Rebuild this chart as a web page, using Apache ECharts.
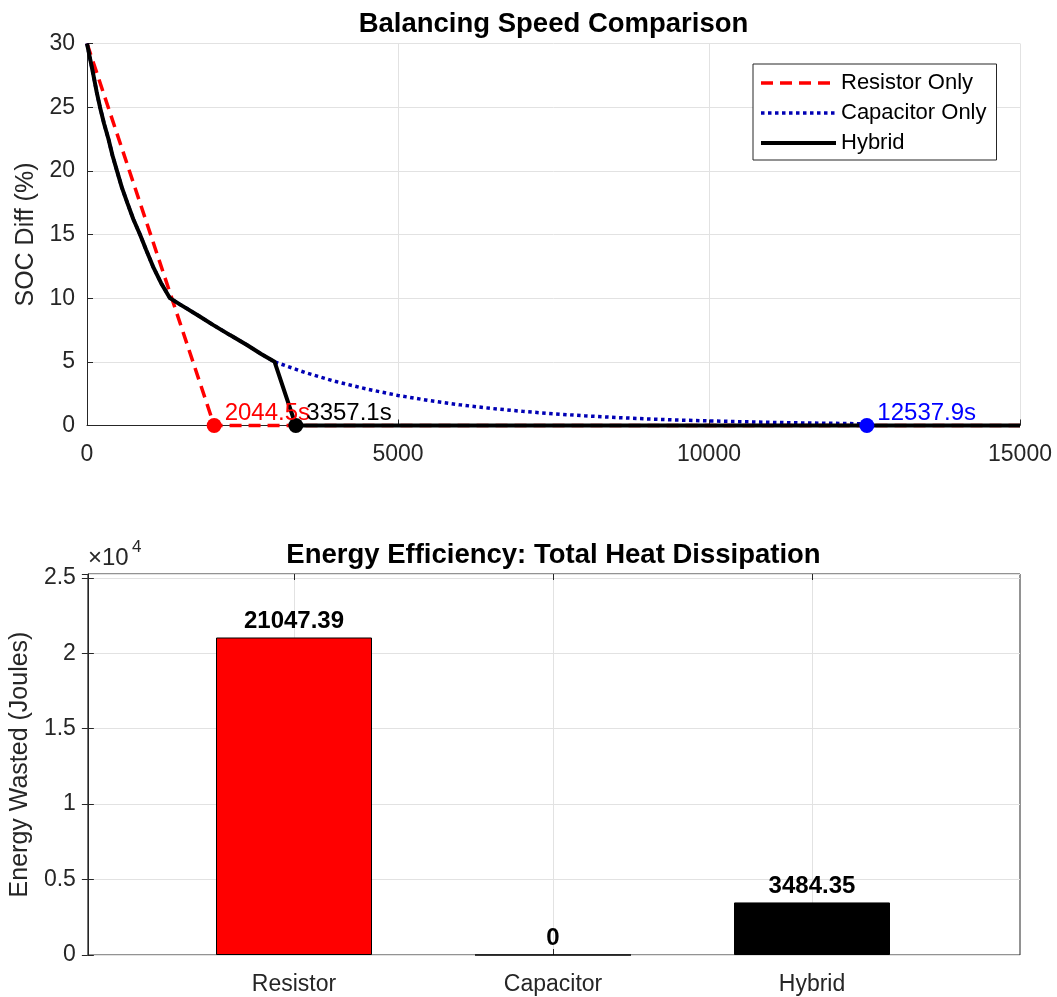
<!DOCTYPE html>
<html><head><meta charset="utf-8">
<script src="https://cdn.jsdelivr.net/npm/echarts@6.0.0/dist/echarts.min.js"></script>
<style>html,body{margin:0;padding:0;background:#fff}#c{width:1057px;height:997px}</style>
</head><body><div id="c"></div>
<script>
const FONT = '"Liberation Sans", Arial, Helvetica, sans-serif';

// ---- Top chart data (time in s, SOC difference in %) ----
const resistorTime = [0, 2044.5, 15000];
const resistorSoc  = [30, 0, 0];

const capacitorTime = [0, 50, 104, 155, 209, 275, 345, 410, 482, 560, 647, 745, 852, 950, 1060, 1190, 1334,
  1480, 1600, 1800, 2026, 2300, 2572, 2800, 3016,
  3500, 4000, 4500, 5000, 5500, 6000, 6500, 7000, 7500, 8000, 8500, 9000, 9500, 10000, 10500, 11000, 11500, 12000, 12537.9];
const capacitorSoc  = [30, 28.8, 27.5, 26.2, 25, 23.7, 22.5, 21.2, 20, 18.7, 17.5, 16.2, 15, 13.8, 12.5, 11.2, 10,
  9.55, 9.2, 8.6, 7.9, 7.1, 6.32, 5.62, 5.0,
  4.17, 3.45, 2.86, 2.36, 1.96, 1.62, 1.34, 1.11, 0.92, 0.76, 0.63, 0.52, 0.43, 0.36, 0.30, 0.245, 0.20, 0.17, 0.13];

const hybridTime = [0, 50, 104, 155, 209, 275, 345, 410, 482, 560, 647, 745, 852, 950, 1060, 1190, 1334,
  1480, 1600, 1800, 2026, 2300, 2572, 2800, 3016, 3357.1, 15000];
const hybridSoc  = [30, 28.8, 27.5, 26.2, 25, 23.7, 22.5, 21.2, 20, 18.7, 17.5, 16.2, 15, 13.8, 12.5, 11.2, 10,
  9.55, 9.2, 8.6, 7.9, 7.1, 6.32, 5.62, 5.0, 0, 0];

const finishTimes = [2044.5, 3357.1, 12537.9];   // Resistor, Hybrid, Capacitor
const seriesNames = ['Resistor Only', 'Capacitor Only', 'Hybrid'];

// ---- Bottom chart data ----
const energyCategories = ['Resistor', 'Capacitor', 'Hybrid'];
const energyValues = [21047.39, 0, 3484.35];
const energyYMax = 25256.87; // 1.2 x largest bar

const zip = (a, b) => a.map((v, i) => [v, b[i]]);
const axisColor = '#262626';
const gridColor = '#e2e2e2';

const styles = {
  resistor: {color: '#ff0000', width: 3.5, type: [12, 7]},
  capacitor: {color: '#0000b4', width: 3.5, type: [3.5, 3.5]},
  hybrid: {color: '#000000', width: 4, type: 'solid'}
};

const chart = echarts.init(document.getElementById('c'), null, {renderer: 'canvas'});

const finishLabel = (color) => ({
  show: true, position: 'right', distance: 3, offset: [0, -12],
  formatter: p => p.value[0].toFixed(1) + 's',
  color: color, fontSize: 24, fontFamily: FONT, opacity: 1
});

const option = {
  backgroundColor: '#fff',
  animation: false,
  textStyle: {fontFamily: FONT},
  graphic: [
    {type: 'text', x: 553.5, y: 10, z: 10, style: {text: 'Balancing Speed Comparison', fontSize: 27.5, fontWeight: 'bold', fontFamily: FONT, fill: '#000', align: 'center', verticalAlign: 'top'}},
    {type: 'text', x: 553.5, y: 541, z: 10, style: {text: 'Energy Efficiency: Total Heat Dissipation', fontSize: 27.5, fontWeight: 'bold', fontFamily: FONT, fill: '#000', align: 'center', verticalAlign: 'top'}},
    {type: 'text', x: 88, y: 546, z: 10, style: {text: '×10', fontSize: 24, fontFamily: FONT, fill: axisColor, align: 'left', verticalAlign: 'top'}},
    {type: 'text', x: 132, y: 539, z: 10, style: {text: '4', fontSize: 17, fontFamily: FONT, fill: axisColor, align: 'left', verticalAlign: 'top'}}
  ],
  legend: {
    data: [
      {name: seriesNames[0], lineStyle: styles.resistor},
      {name: seriesNames[1], lineStyle: styles.capacitor},
      {name: seriesNames[2], lineStyle: styles.hybrid}
    ],
    orient: 'vertical', left: 753, top: 64,
    itemWidth: 75, itemHeight: 14, itemGap: 8,
    padding: [8, 10, 6, 6],
    borderColor: axisColor, borderWidth: 1, backgroundColor: '#fff',
    itemStyle: {opacity: 0},
    textStyle: {fontSize: 22, color: '#000', fontFamily: FONT}
  },
  grid: [
    {left: 87, top: 43.5, width: 933, height: 382},
    {left: 87, top: 574, width: 933, height: 381, show: true, borderColor: axisColor, borderWidth: 1, backgroundColor: 'transparent'},
    {left: 294, top: 574, width: 518, height: 381}
  ],
  xAxis: [
    {gridIndex: 0, type: 'value', min: 0, max: 15000, interval: 5000,
      axisLine: {show: true, onZero: false, lineStyle: {color: axisColor, width: 1}},
      axisTick: {show: true, inside: true, length: 6, lineStyle: {color: axisColor}},
      axisLabel: {color: axisColor, fontSize: 23, margin: 18, fontFamily: FONT, formatter: v => String(v)},
      splitLine: {show: true, lineStyle: {color: gridColor, width: 1}}},
    {gridIndex: 1, type: 'value', min: 0, max: 1, show: false},
    {gridIndex: 2, type: 'category', data: energyCategories, boundaryGap: false, position: 'bottom',
      axisLine: {show: false},
      axisTick: {show: true, inside: true, length: 6, lineStyle: {color: axisColor}},
      axisLabel: {color: axisColor, fontSize: 23, margin: 18, fontFamily: FONT},
      splitLine: {show: true, lineStyle: {color: gridColor, width: 1}}},
    {gridIndex: 2, type: 'category', data: energyCategories, boundaryGap: false, position: 'top',
      axisLine: {show: false},
      axisTick: {show: true, inside: true, length: 6, lineStyle: {color: axisColor}},
      axisLabel: {show: false}, splitLine: {show: false}}
  ],
  yAxis: [
    {gridIndex: 0, type: 'value', min: 0, max: 30, interval: 5,
      name: 'SOC Diff (%)', nameLocation: 'middle', nameGap: 45,
      nameTextStyle: {fontSize: 25, color: axisColor, fontFamily: FONT},
      axisLine: {show: true, onZero: false, lineStyle: {color: axisColor, width: 1}},
      axisTick: {show: true, inside: true, length: 6, lineStyle: {color: axisColor}},
      axisLabel: {color: axisColor, fontSize: 23, margin: 12, fontFamily: FONT},
      splitLine: {show: true, lineStyle: {color: gridColor, width: 1}}},
    {gridIndex: 1, type: 'value', min: 0, max: energyYMax, interval: 5000,
      name: 'Energy Wasted (Joules)', nameLocation: 'middle', nameGap: 52,
      nameTextStyle: {fontSize: 25, color: axisColor, fontFamily: FONT},
      axisLine: {show: true, onZero: false, lineStyle: {color: axisColor, width: 1}},
      axisTick: {show: true, inside: true, length: 6, lineStyle: {color: axisColor}},
      axisLabel: {color: axisColor, fontSize: 23, margin: 12, fontFamily: FONT, showMaxLabel: false,
        formatter: v => (Math.abs(v % 5000) < 1e-6 ? String(v / 10000) : '')},
      splitLine: {show: true, lineStyle: {color: gridColor, width: 1}}},
    {gridIndex: 1, type: 'value', min: 0, max: energyYMax, interval: 5000, position: 'right',
      axisLine: {show: false},
      axisTick: {show: true, inside: true, length: 6, lineStyle: {color: axisColor}},
      axisLabel: {show: false}, splitLine: {show: false}},
    {gridIndex: 2, type: 'value', min: 0, max: energyYMax, show: false}
  ],
  series: [
    {type: 'line', name: seriesNames[0], xAxisIndex: 0, yAxisIndex: 0, data: zip(resistorTime, resistorSoc),
      symbol: 'none', clip: false, z: 2,
      lineStyle: styles.resistor, itemStyle: {color: styles.resistor.color}},
    {type: 'line', name: seriesNames[1], xAxisIndex: 0, yAxisIndex: 0, data: zip(capacitorTime, capacitorSoc),
      symbol: 'none', clip: false, z: 3,
      lineStyle: styles.capacitor, itemStyle: {color: styles.capacitor.color}},
    {type: 'line', name: seriesNames[2], xAxisIndex: 0, yAxisIndex: 0, data: zip(hybridTime, hybridSoc),
      symbol: 'none', clip: false, z: 4,
      lineStyle: styles.hybrid, itemStyle: {color: styles.hybrid.color}},
    {type: 'scatter', xAxisIndex: 0, yAxisIndex: 0, data: [[finishTimes[0], 0]], symbolSize: 15, clip: false, z: 5,
      itemStyle: {color: '#ff0000', opacity: 1}, label: finishLabel('#ff0000')},
    {type: 'scatter', xAxisIndex: 0, yAxisIndex: 0, data: [[finishTimes[1], 0]], symbolSize: 15, clip: false, z: 5,
      itemStyle: {color: '#000000', opacity: 1}, label: finishLabel('#000000')},
    {type: 'scatter', xAxisIndex: 0, yAxisIndex: 0, data: [[finishTimes[2], 0]], symbolSize: 15, clip: false, z: 5,
      itemStyle: {color: '#0000ff', opacity: 1}, label: finishLabel('#0000ff')},
    {type: 'bar', xAxisIndex: 2, yAxisIndex: 3, barWidth: 156, clip: false, z: 3,
      data: energyValues.map((v, i) => ({value: v, itemStyle: {color: ['#ff0000', '#0000ff', '#000000'][i]}})),
      itemStyle: {borderColor: '#000', borderWidth: 1},
      label: {show: true, position: 'top', distance: 4, fontSize: 24, fontWeight: 'bold', color: '#000', fontFamily: FONT,
        formatter: p => String(Number(p.value.toFixed(2)))}}
  ]
};
chart.setOption(option);
</script>
</body></html>
